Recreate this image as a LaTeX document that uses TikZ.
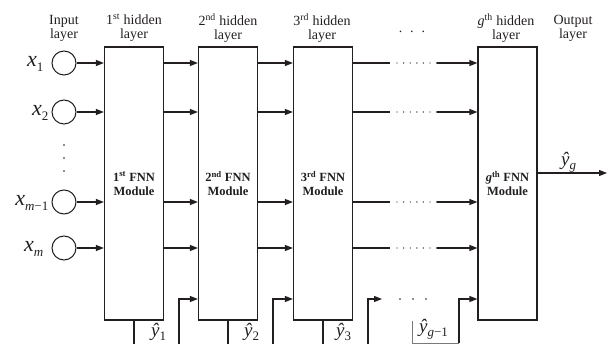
\documentclass[tikz,border=0pt]{standalone}
\usepackage{fontspec}
\setmainfont{Liberation Serif}
\usetikzlibrary{arrows.meta}
\definecolor{ink}{HTML}{231F20}
\newcommand{\xs}[1]{\textit{x}\raisebox{-5pt}{\fontsize{13}{13}\selectfont #1}}
\newcommand{\ys}[1]{\textit{ŷ}\raisebox{-4pt}{\fontsize{13}{13}\selectfont #1}}
\begin{document}
\begin{tikzpicture}[x=1pt,y=-1pt,
 line/.style={line width=1.2pt, draw=ink},
 arr/.style={line width=1.2pt, draw=ink, -{Triangle[length=8pt,width=6pt]}},
 brk/.style={line width=0.9pt, draw=ink!60},
 box/.style={draw=ink, line width=1.2pt, minimum width=59pt, minimum height=273pt, inner sep=0pt, align=center, font=\fontsize{12.5}{14}\selectfont\bfseries, text=ink},
 hdr/.style={align=center, inner sep=0pt, font=\fontsize{14}{14}\selectfont, text=ink},
 neuron/.style={circle, draw=ink, line width=1pt, minimum size=24pt, inner sep=0pt},
 var/.style={inner sep=0pt, font=\fontsize{22}{22}\selectfont, anchor=base east, text=ink},
 yl/.style={inner sep=0pt, font=\fontsize{19}{19}\selectfont, anchor=base west, text=ink},
 dot/.style={fill=ink},
]
\useasboundingbox (0,0) rectangle (608,344);

% rows
\coordinate (r1) at (0,63);
\coordinate (r2) at (0,112);
\coordinate (r3) at (0,202);
\coordinate (r4) at (0,248);
\coordinate (rf) at (0,299);
\coordinate (bot) at (0,344);

% headers
\node[hdr] (h0) at (64,28) {Input\\layer};
\node[hdr] (h1) at (134,28) {1\textsuperscript{st} hidden\\layer};
\node[hdr] (h2) at (228,28) {2\textsuperscript{nd} hidden\\layer};
\node[hdr] (h3) at (322,28) {3\textsuperscript{rd} hidden\\layer};
\node[hdr, anchor=base] (hd) at (412,33) {.\hspace{8pt}.\hspace{8pt}.};
\node[hdr] (hg) at (506,28) {\textit{g}\textsuperscript{th} hidden\\layer};
\node[hdr] (ho) at (573,28) {Output\\layer};

% boxes
\node[box] (b1) at (134,183.5) {1\textsuperscript{st} FNN\\Module};
\node[box] (b2) at (228,183.5) {2\textsuperscript{nd} FNN\\Module};
\node[box] (b3) at (323,183.5) {3\textsuperscript{rd} FNN\\Module};
\node[box] (bg) at (507.5,183.5) {\textit{g}\textsuperscript{th} FNN\\Module};

% input neurons
\node[neuron] (n1) at (64,63) {};
\node[neuron] (n2) at (64,112) {};
\node[neuron] (n3) at (64,202) {};
\node[neuron] (n4) at (64,248) {};
\node[var] (l1) at ([xshift=-8pt,yshift=-4pt]n1.west) {\xs{1}};
\node[var] (l2) at ([xshift=-3pt,yshift=-4pt]n2.west) {\xs{2}};
\node[var] (l3) at ([xshift=-3pt,yshift=-4pt]n3.west) {\xs{\textit{m}−1}};
\node[var] (l4) at ([xshift=-8pt,yshift=-4pt]n4.west) {\xs{\textit{m}}};
\foreach \yy in {145,158,171} \fill[dot] (64,\yy) circle (0.8);

\foreach \n in {n1,n2,n3,n4} \draw[arr] (\n) -- (b1.west |- \n);

% layer to layer
\coordinate (dA) at (390,0);
\coordinate (dB) at (437,0);
\foreach \r in {r1,r2,r3,r4} {
  \draw[arr] (b1.east |- \r) -- (b2.west |- \r);
  \draw[arr] (b2.east |- \r) -- (b3.west |- \r);
  \draw[line] (b3.east |- \r) -- (dA |- \r);
  \draw[arr] (dB |- \r) -- (bg.west |- \r);
  \foreach \k in {0,...,6} {
    \pgfmathsetmacro\dx{397+\k*6.6}
    \fill[dot] (\r) ++(\dx,0) circle (0.7);
  }
}

% feedback
\coordinate (u1) at (179,344);
\coordinate (u2) at (273,344);
\coordinate (u3) at (368,344);
\coordinate (e3) at (382,299);
\coordinate (k1) at (412,321);
\coordinate (ug) at (459,343);
\draw[line] (b1.south) -- (b1.south |- bot);
\draw[line] (b2.south) -- (b2.south |- bot);
\draw[line] (b3.south) -- (b3.south |- bot);
\draw[arr] (u1) |- (b2.west |- rf);
\draw[arr] (u2) |- (b3.west |- rf);
\draw[arr] (u3) |- (e3);
\foreach \xx in {400,413,426} \fill[dot] (\xx,299) circle (0.8);
\draw[brk] (k1) -- (k1 |- ug) -- (ug);
\draw[arr] (ug) |- (bg.west |- rf);

% output
\coordinate (oe) at (607,173);
\draw[arr] (bg.east |- oe) -- (oe);

% labels
\node[yl] (y1) at (151,337) {\ys{1}};
\node[yl] (y2) at (244,337) {\ys{2}};
\node[yl] (y3) at (336,337) {\ys{3}};
\node[yl] (yg1) at (419,333) {\ys{\textit{g}−1}};
\node[yl] (yg) at (561,166) {\ys{\textit{g}}};
\end{tikzpicture}
\end{document}
